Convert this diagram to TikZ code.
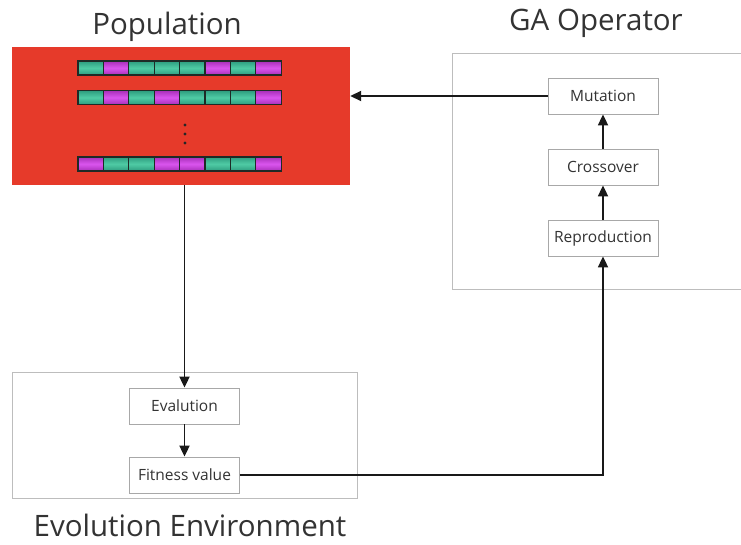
\documentclass[tikz,border=0pt]{standalone}
\usepackage{fontspec}
\setmainfont{Open Sans}
\usetikzlibrary{arrows.meta}
\definecolor{popred}{HTML}{E63A2A}
\definecolor{txtgray}{HTML}{333333}
\definecolor{boxgray}{HTML}{A8A8A8}
\definecolor{framegray}{HTML}{BDBDBD}
\definecolor{gtop}{HTML}{2E9C7E}
\definecolor{gmid}{HTML}{4FCBA5}
\definecolor{mtop}{HTML}{A82FB8}
\definecolor{mmid}{HTML}{DA55EE}
\definecolor{celledge}{HTML}{1E2A26}
\begin{document}
\begin{tikzpicture}[x=1pt,y=-1pt,
  title/.style={font=\fontsize{29.5}{34}\selectfont, text=txtgray, inner sep=0pt},
  stepbox/.style={draw=boxgray, line width=0.8pt, fill=white, font=\fontsize{15.5}{18}\selectfont, text=txtgray, minimum width=110pt, minimum height=36pt, inner sep=0pt},
  frame/.style={draw=framegray, line width=0.9pt},
  conn/.style={line width=1.8pt, draw=black!90},
  arr/.style={conn, -{Triangle[length=11pt,width=10pt]}},
  gcell/.style={draw=celledge, line width=1.2pt, top color=gtop, bottom color=gtop, middle color=gmid},
  mcell/.style={draw=celledge, line width=1.2pt, top color=mtop, bottom color=mtop, middle color=mmid}
]
\useasboundingbox (0,0) rectangle (741,545);
\fill[white] (0,0) rectangle (741,545);

% titles
\node[title, anchor=base] (tpop) at (167,35) {Population};
\node[title, anchor=base] (tga) at (596,31) {GA Operator};
\node[title, anchor=base] (tenv) at (190,536) {Evolution Environment};

% frames
\node[frame, minimum width=292pt, minimum height=236pt, inner sep=0pt] (ga) at (598,171) {};
\node[frame, minimum width=345pt, minimum height=126pt, inner sep=0pt] (env) at (184.5,435) {};

% population box
\node[fill=popred, minimum width=338pt, minimum height=138pt, inner sep=0pt] (pop) at (181,116) {};

% chromosomes
\foreach \row/\yy in {{g,m,g,g,g,m,g,m}/68, {g,m,g,m,g,g,g,m}/97.5, {m,g,g,m,m,g,g,m}/164}{
  \foreach \c [count=\i from 0] in \row {
    \pgfmathsetmacro{\xa}{78+25.4*\i}
    \pgfmathsetmacro{\xb}{78+25.4*(\i+1)}
    \if g\c
      \path[gcell] (\xa,\yy-7) rectangle (\xb,\yy+7);
    \else
      \path[mcell] (\xa,\yy-7) rectangle (\xb,\yy+7);
    \fi
  }
}
\foreach \yy in {125,134,143}{
  \fill[black!85] (185,\yy) circle (1.6pt);
}

% GA operator steps
\node[stepbox] (mut) at (603,96) {Mutation};
\node[stepbox] (cro) at (603,167) {Crossover};
\node[stepbox] (rep) at (603,238) {Reproduction};

% evolution steps
\node[stepbox] (eval) at (184.5,406) {Evalution};
\node[stepbox] (fit) at (184.5,475) {Fitness value};

% connectors
\draw[arr] (mut.west) -- (mut.west -| pop.east);
\draw[arr] (cro.north) -- (mut.south);
\draw[arr] (rep.north) -- (cro.south);
\draw[arr] (pop.south -| eval.north) -- (eval.north);
\draw[arr] (eval.south) -- (fit.north);
\draw[arr] (fit.east) -- (fit.east -| rep.south) -- (rep.south);
\end{tikzpicture}
\end{document}
